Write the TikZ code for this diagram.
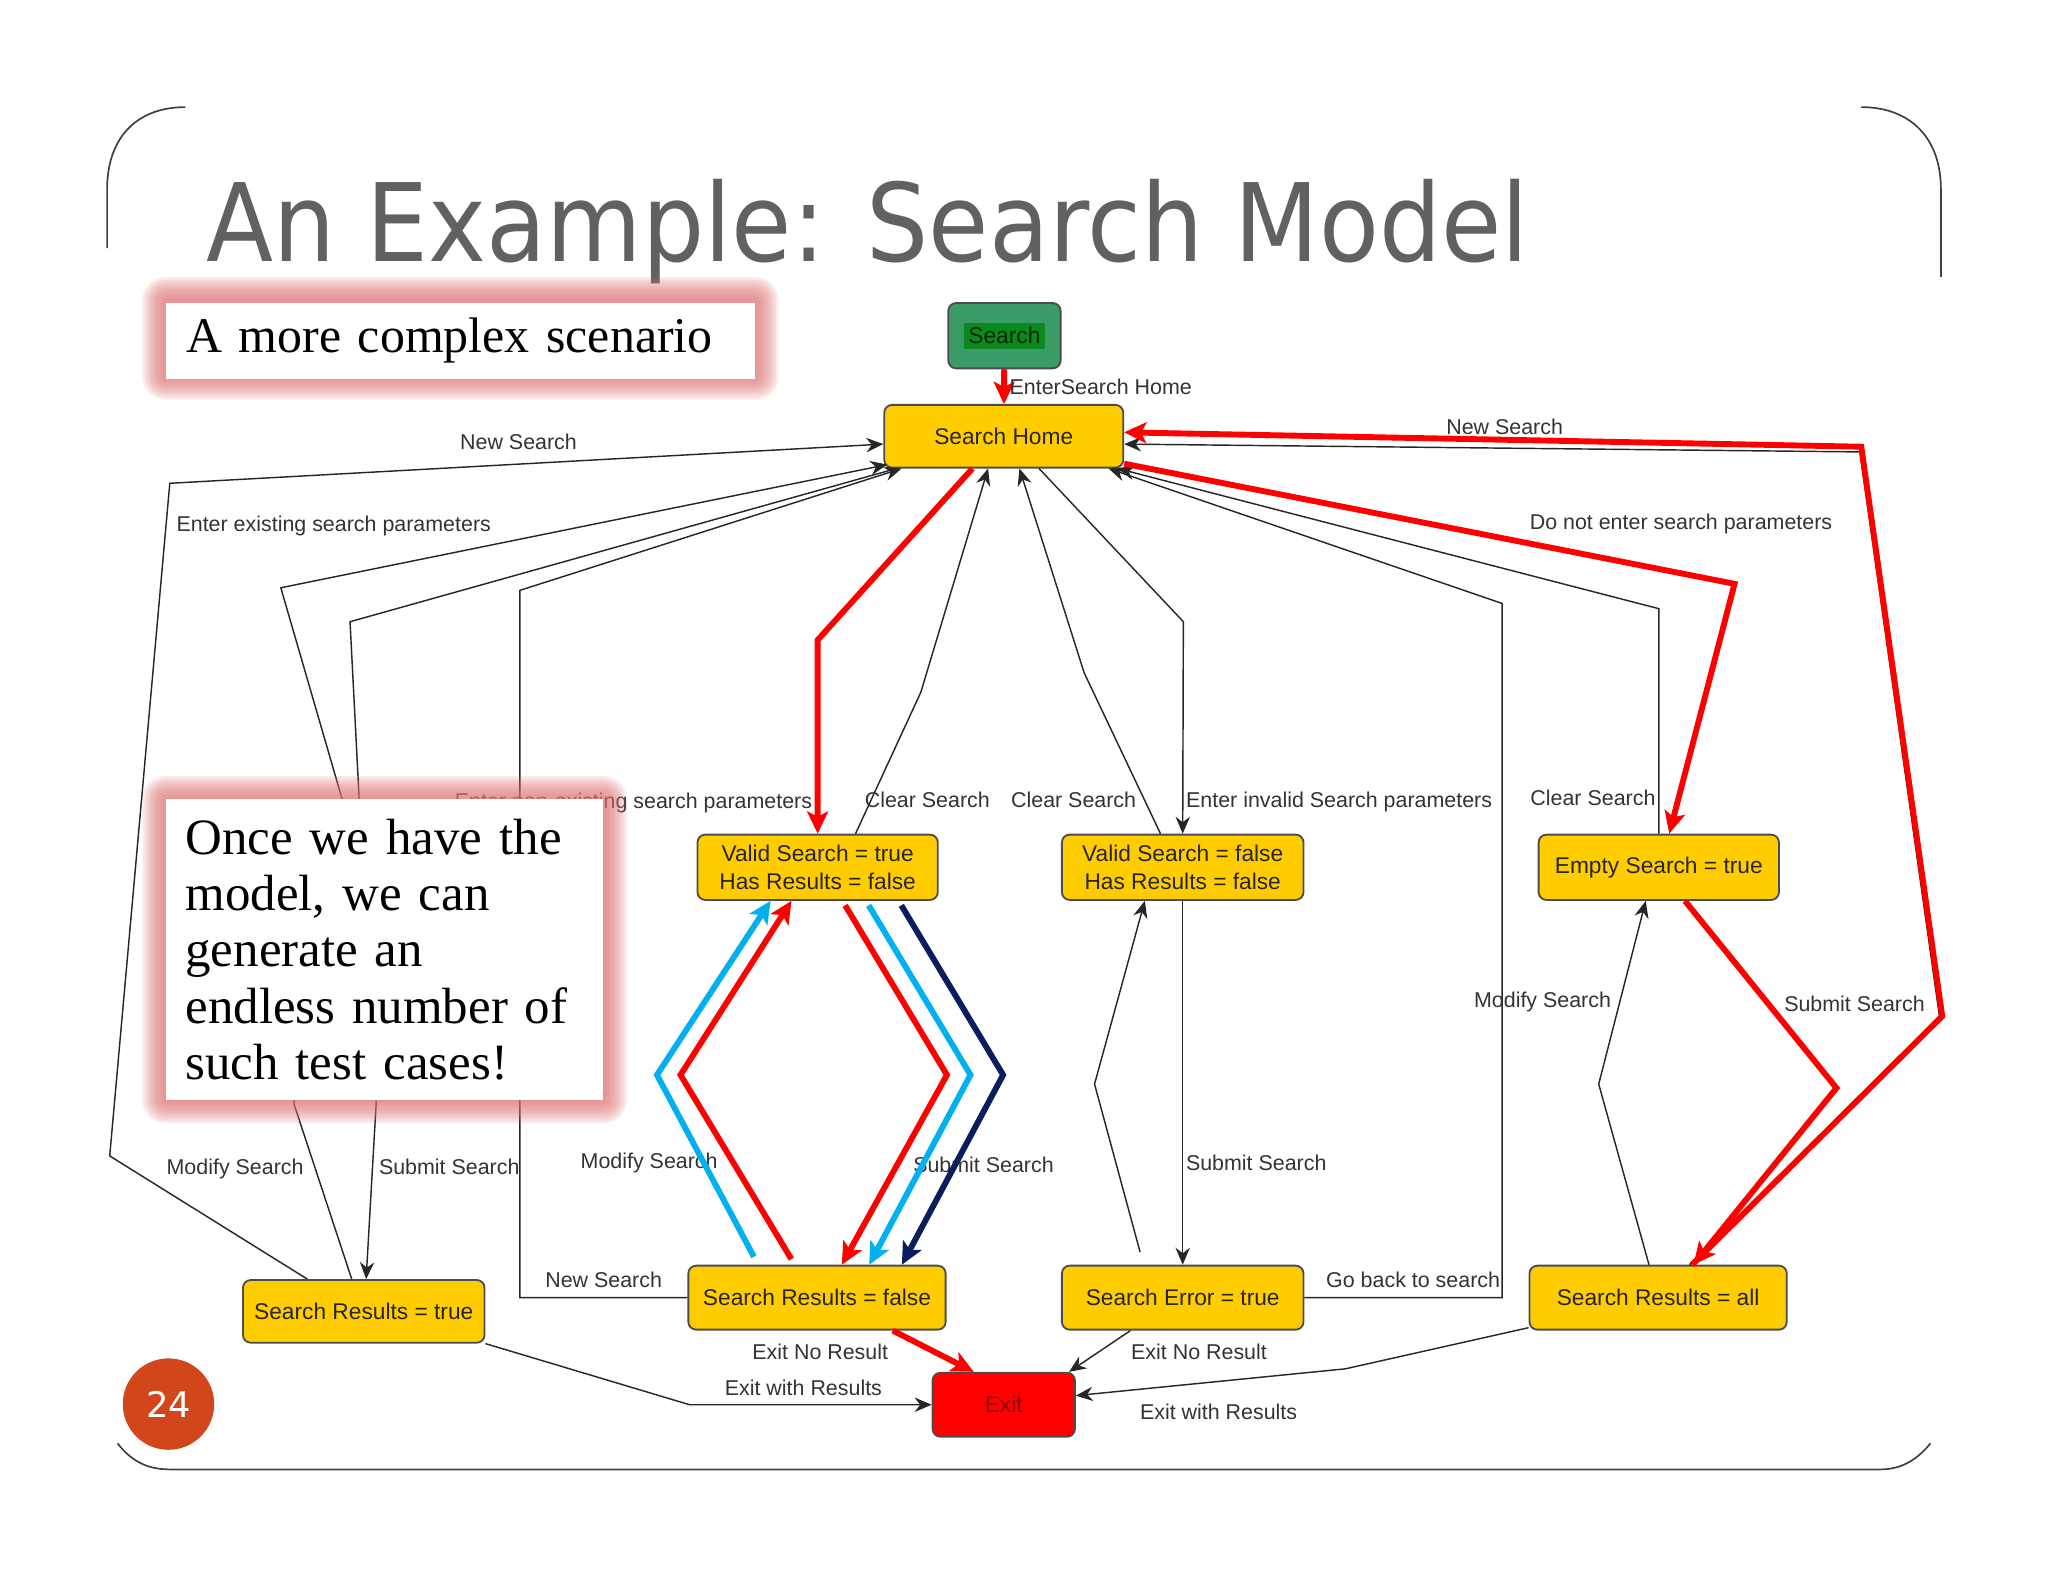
\documentclass[tikz,border=0pt]{standalone}
\usepackage{fontspec}
\usepackage{graphicx}
\newfontfamily\diagfont{Liberation Sans}
\newfontfamily\titlefont{DejaVu Sans}
\newfontfamily\notefont{Liberation Serif}
\usetikzlibrary{arrows.meta, positioning}
\definecolor{gold}{HTML}{FFCC00}
\definecolor{seagreen}{HTML}{3A9B66}
\definecolor{leafgreen}{HTML}{0A8A1E}
\definecolor{skyline}{HTML}{00B0F0}
\definecolor{navyline}{HTML}{0A1E5E}
\definecolor{glow}{HTML}{DE7272}
\definecolor{rust}{HTML}{D2461C}
\definecolor{darkred}{HTML}{8B0000}
\setlength{\fboxsep}{3.5pt}
\tikzstyle{block} = [rectangle, rounded corners=6pt, draw=black!70, line width=1.4pt, minimum height=49pt, inner sep=2pt, align=center, text=black!85, font=\diagfont\fontsize{17.4}{21.9}\selectfont]
\tikzstyle{state} = [block, fill=gold, minimum width=185pt]
\tikzstyle{entry} = [block, fill=seagreen, minimum width=86pt, minimum height=50pt, text=black!85!green]
\tikzstyle{terminal} = [block, fill=red, minimum width=109pt, text=darkred]
\tikzstyle{tag} = [font=\diagfont\fontsize{16.4}{19}\selectfont, text=black!80, inner sep=2pt]
\tikzstyle{note} = [fill=white, inner sep=0pt, align=left, font=\notefont\fontsize{39}{43}\selectfont]
\tikzstyle{link} = [-{Stealth[length=13pt, width=11pt]}, line width=1.1pt, draw=black!85]
\tikzstyle{redpath} = [-{Stealth[length=17pt, width=16pt, inset=4pt]}, line width=4.5pt, draw=red]
\tikzstyle{bluepath} = [redpath, draw=skyline]
\tikzstyle{navypath} = [redpath, draw=navyline]
\tikzstyle{slideline} = [line width=1.3pt, draw=black!75]

\begin{document}
\begin{tikzpicture}[x=1pt, y=-1pt]
    \useasboundingbox (0,0) rectangle (1568,1211);

    % Slide frame.
    \draw [slideline] (82,190) -- (82,145) .. controls (82,105) and (105,82) .. (142,82);
    \draw [slideline] (1425,82) .. controls (1462,82) and (1486,105) .. (1486,145) -- (1486,212);
    \draw [slideline] (90,1105) .. controls (100,1118) and (112,1125) .. (130,1125) -- (1440,1125) .. controls (1458,1125) and (1470,1115) .. (1478,1105);

    % Title.
    \node (title) [anchor=base west, inner sep=0pt, text=black!62] at (158,200) {\resizebox{1012pt}{63pt}{\titlefont An Example: Search Model}};

    % States.
    \node (search) [entry] at (769,257) {\colorbox{leafgreen}{Search}};
    \node (home) [state, minimum width=183pt, minimum height=48pt] at (768.5,334) {Search Home};
    \node (validT) [state, minimum width=184pt, minimum height=50pt] at (626,664) {Valid Search = true\\Has Results = false};
    \node (validF) [state, minimum height=50pt] at (905.5,664) {Valid Search = false\\Has Results = false};
    \node (empty) [state, minimum width=184pt, minimum height=50pt] at (1270,664) {Empty Search = true};
    \node (resTrue) [state, minimum height=48pt] at (278.5,1004) {Search Results = true};
    \node (resFalse) [state, minimum width=197pt] at (625.5,993.5) {Search Results = false};
    \node (error) [state] at (905.5,993.5) {Search Error = true};
    \node (resAll) [state, minimum width=197pt] at (1269.5,993.5) {Search Results = all};
    \node (exit) [terminal] at (768.5,1075.5) {Exit};

    % Transitions.
    \draw [link] ([xshift=50pt]resTrue.north west) -- (84,885) -- (130,370) -- ([yshift=-6pt]home.west);
    \draw [link] ([xshift=84pt]resTrue.north west) -- (225,845) -- (262,612) -- (215,450) -- ([xshift=3pt, yshift=3pt]home.south west);
    \draw [link] ([xshift=10pt]home.south west) -- (268,476) -- (275,612) -- (288,845) -- ([xshift=95pt]resTrue.north west);
    \draw [link] (resFalse.west) -- node [tag, above, pos=0.5, yshift=5pt] {New Search} (398,993.5) -- (398,452) -- ([xshift=14pt]home.south west);
    \draw [link] ([xshift=29pt]validT.north) -- (705,530) -- ([xshift=-12pt]home.south);
    \draw [link] ([xshift=-17pt]validF.north) -- (830,515) -- ([xshift=12pt]home.south);
    \draw [link] ([xshift=27pt]home.south) -- (906,476) -- node [tag, right, pos=0.85] {Enter invalid Search parameters} (validF.north);
    \draw [link] (error.east) -- node [tag, above, pos=0.55, yshift=5pt] {Go back to search} (1150,993.5) -- (1150,462) -- ([xshift=-12pt]home.south east);
    \draw [link] (empty.north) -- node [tag, left, pos=0.16] {Clear Search} (1270,466) -- ([xshift=-5pt]home.south east);
    \draw [link] ([xshift=24pt]resAll.north) -- (1485,779) -- (1424,346) -- ([yshift=-6pt]home.east);
    \draw [link] ([xshift=-7pt]resAll.north) -- (1224,830) -- ([xshift=-10pt]empty.south);
    \draw [link, shorten <=10pt] ([xshift=-30pt]error.north) -- (838,830) -- ([xshift=-29pt]validF.south);
    \draw [link] (validF.south) -- node [tag, right, pos=0.72] {Submit Search} (error.north);
    \draw [link] ([xshift=-40pt]error.south) -- ([xshift=50pt]exit.north);
    \draw [link] ([yshift=-23pt]resAll.west) -- (1030,1048) -- ([yshift=7pt]exit.east);
    \draw [link] (resTrue.south east) -- (528,1075.5) -- node [tag, above, pos=0.47, yshift=4pt] {Exit with Results} (exit.west);

    % Labels.
    \node [tag] at (397,338) {New Search};
    \node [tag, anchor=west] at (133,403) {Enter existing search parameters};
    \node [tag] at (180,895) {Modify Search};
    \node [tag, anchor=west] at (288,893) {Submit Search};
    \node [tag] at (710,612) {Clear Search};
    \node [tag] at (822,612) {Clear Search};
    \node [tag] at (1287,401) {Do not enter search parameters};
    \node [tag] at (1152,327) {New Search};
    \node [tag] at (1181,767) {Modify Search};
    \node [tag] at (497,890) {Modify Search};
    \node [tag] at (753,892) {Submit Search};
    \node [tag] at (918,1035) {Exit No Result};
    \node [tag] at (628,1035) {Exit No Result};
    \node [tag] at (933,1081) {Exit with Results};

    % Test path.
    \draw [redpath] (search) -- node [tag, right, pos=0.5] {EnterSearch Home} (home);
    \draw [redpath] ([xshift=-24pt]home.south) -- (626,490) -- node [tag, left, pos=0.84] {Enter non-existing search parameters} (validT.north);
    \draw [redpath] ([yshift=-21pt]home.east) -- (1328,447) -- ([xshift=8pt]empty.north);
    \draw [redpath] ([xshift=26pt]resAll.north) -- (1487,778) -- (1425,342) -- ([yshift=3pt]home.east);
    \draw [redpath] ([xshift=20pt]empty.south) -- node [tag, right, pos=0.55, xshift=8pt] {Submit Search} (1406,833) -- ([xshift=27pt]resAll.north);
    \draw [redpath] ([xshift=58pt]resFalse.south) -- ([xshift=-23pt]exit.north);
    \draw [bluepath, shorten <=7pt] ([xshift=-45pt]resFalse.north) -- (503,823) -- ([xshift=-36pt]validT.south);
    \draw [redpath, shorten <=5pt] ([xshift=-17pt]resFalse.north) -- (521,823) -- ([xshift=-20pt]validT.south);
    \draw [redpath, shorten <=4pt] ([xshift=19pt]validT.south) -- (725,823) -- ([xshift=19pt]resFalse.north);
    \draw [bluepath, shorten <=4pt] ([xshift=37pt]validT.south) -- (743,823) -- ([xshift=40pt]resFalse.north);
    \draw [navypath, shorten <=4pt] ([xshift=62pt]validT.south) -- (768,823) -- ([xshift=65pt]resFalse.north);

    % Callouts.
    \foreach \r in {2,4,...,18} {
        \fill [glow, opacity=0.14, rounded corners=\r pt] (127-\r,230-\r) rectangle (578+\r,288+\r);
        \fill [glow, opacity=0.14, rounded corners=\r pt] (127-\r,612-\r) rectangle (462+\r,842+\r);
    }
    \node (scenario) [note, minimum width=451pt, minimum height=58pt, text width=420pt, font=\notefont\fontsize{38.2}{42}\selectfont] at (352.5,261) {A more complex scenario};
    \node (once) [note, minimum width=335pt, minimum height=230pt, text width=305pt] at (294.5,727) {Once we have the\\model, we can\\generate an\\endless number of\\such test cases!};

    % Page number.
    \node (page) [circle, fill=rust, minimum size=70pt, inner sep=0pt, text=white, font=\titlefont\fontsize{27}{30}\selectfont] at (129,1075) {24};
\end{tikzpicture}
\end{document}
